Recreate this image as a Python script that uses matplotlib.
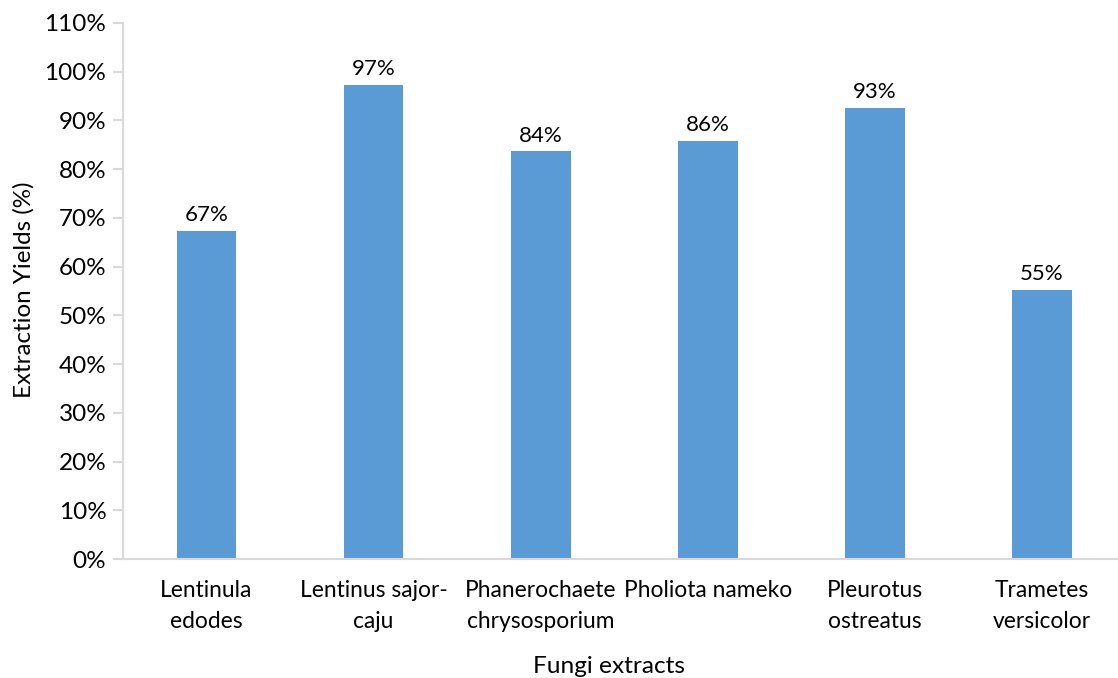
import matplotlib.pyplot as plt
import numpy as np

categories = ['Lentinula\nedodes', 'Lentinus sajor-\ncaju', 'Phanerochaete\nchrysosporium',
              'Pholiota nameko', 'Pleurotus\nostreatus', 'Trametes\nversicolor']
yields = [67.4, 97.3, 83.7, 85.8, 92.6, 55.3]
yticks = list(range(0, 111, 10))

plt.rcParams['font.family'] = ['Lato', 'DejaVu Sans']

fig = plt.figure(figsize=(11.18, 6.78), dpi=100)
ax = fig.add_axes([0.110, 0.1755, 0.8967, 0.7906])

x = np.arange(len(categories))
bars = ax.bar(x, yields, width=0.357, color='#5B9BD5')
for b, v in zip(bars, yields):
    ax.annotate('{:.0f}%'.format(v), (b.get_x() + b.get_width() / 2, v),
                xytext=(0, 4), textcoords='offset points',
                ha='center', va='bottom', fontsize=16, color='#000000')

ax.set_xlim(-0.5, 5.5)
ax.set_ylim(0, 110)
ax.set_yticks(yticks)
ax.set_yticklabels(['{}%'.format(t) for t in yticks], fontsize=17.5)
ax.set_xticks(x)
ax.set_xticklabels(categories, fontsize=16.4, linespacing=1.6)

for s in ['top', 'right']:
    ax.spines[s].set_visible(False)
for s in ['left', 'bottom']:
    ax.spines[s].set_color('#D9D9D9')
    ax.spines[s].set_linewidth(1.5)
ax.tick_params(axis='y', length=7, color='#D9D9D9', width=1.5, pad=5)
ax.tick_params(axis='x', length=0, pad=15)

ax.set_xlabel('Fungi extracts', fontsize=17.6)
ax.xaxis.set_label_coords(0.485, -0.2)
ax.xaxis.label.set_va('center')
ax.set_ylabel('Extraction Yields (%)', fontsize=17.4)
ax.yaxis.set_label_coords(-0.099, 0.502)
ax.yaxis.label.set_va('center')

fig.savefig('out.png', dpi=100)
